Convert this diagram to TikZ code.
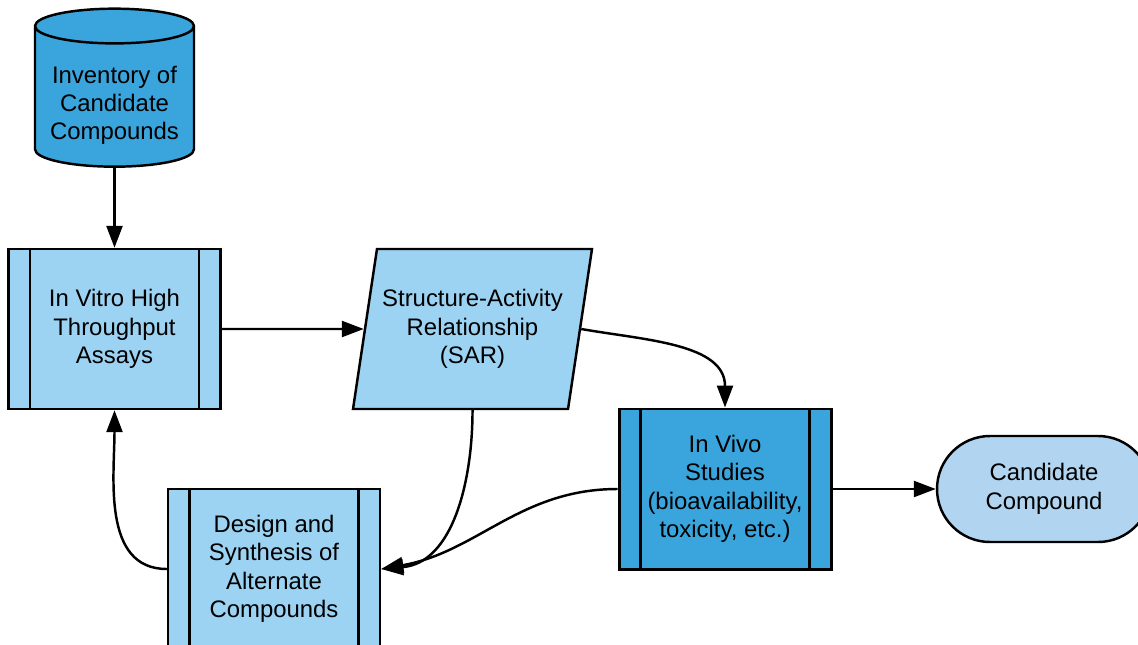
\documentclass[tikz,border=0pt]{standalone}
\usepackage{fontspec}
\setmainfont{Liberation Sans}
\usetikzlibrary{positioning,arrows.meta,shapes.geometric}
\definecolor{cpDark}{RGB}{58,165,220}
\definecolor{cpLight}{RGB}{156,210,242}
\definecolor{cpPale}{RGB}{177,213,240}
\tikzset{
    base/.style={font=\fontsize{13.6}{16.2}\selectfont, align=center, draw=black, line width=1.4pt, inner sep=1mm},
    store/.style={base, cylinder, shape border rotate=90, aspect=0.25, fill=cpDark,
                  minimum width=3.18cm, minimum height=3.16cm},
    process/.style={base, rectangle, fill=cpLight, minimum width=4.24cm, minimum height=3.2cm,
                    path picture={
                      \draw[line width=1.4pt] ([xshift=0.43cm]path picture bounding box.north west) -- ([xshift=0.43cm]path picture bounding box.south west);
                      \draw[line width=1.4pt] ([xshift=-0.43cm]path picture bounding box.north east) -- ([xshift=-0.43cm]path picture bounding box.south east);}},
    dataio/.style={base, trapezium, trapezium left angle=75, trapezium right angle=105,
                   trapezium stretches=true, fill=cpLight, minimum width=4.78cm, minimum height=3.2cm},
    terminal/.style={base, rectangle, rounded corners=1.06cm, fill=cpPale,
                     minimum width=4.28cm, minimum height=2.12cm},
    flow/.style={-{Triangle[length=0.44cm,width=0.32cm]}, line width=1.4pt, color=black}
}
\begin{document}
\begin{tikzpicture}
  \useasboundingbox (0,0) rectangle (22.76,-12.88);
  \clip (0,0) rectangle (22.76,-12.88);

  % steps
  \node[store] (inv) at (2.29,-2.0) {\rule{0pt}{0.56cm}Inventory of\\Candidate\\Compounds};
  \node[process] (vitro) at (2.29,-6.58) {In Vitro High\\Throughput\\Assays};
  \node[dataio] (sar) at (9.45,-6.58) {Structure-Activity\\Relationship\\(SAR)};
  \node[process, fill=cpDark, line width=1.7pt] (vivo) at (14.5,-9.78) {In Vivo\\Studies\\(bioavailability,\\toxicity, etc.)};
  \node[terminal] (cand) at (20.88,-9.78) {Candidate\\Compound};
  \node[process] (design) at (5.48,-11.38) {Design and\\Synthesis of\\Alternate\\Compounds};

  % connectors
  \draw[flow] (inv) -- (vitro);
  \draw[flow] (vitro) -- (sar);
  \draw[flow] (sar.east) to[out=-10, in=90] (vivo.north);
  \draw[flow] (vivo) -- (cand);
  \draw[flow] (sar.south) to[out=-90, in=5] (design.east);
  \draw[flow] (vivo.west) to[out=180, in=10] (design.east);
  \draw[flow] (design.west) to[out=180, in=-90] (vitro.south);
\end{tikzpicture}
\end{document}
